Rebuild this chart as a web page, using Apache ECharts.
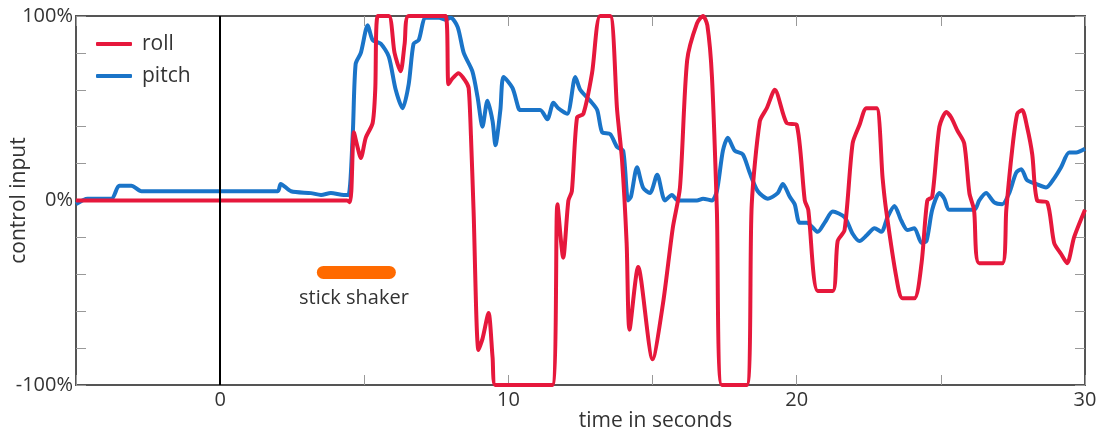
<!DOCTYPE html>
<html lang="en">
<head>
    <meta charset="UTF-8">
    <script src="https://cdn.jsdelivr.net/npm/echarts@6/dist/echarts.min.js"></script>
    <title>control input</title>
    <style>
        html, body { margin: 0; padding: 0; background: #fff; }
    </style>
</head>
<body>
    <div id="main" style="width: 1102px; height: 434px;"></div>
    <script>
        // time in seconds, control input in %
        var rollData = [
            [-5,0],[4.4,0],[4.5,-1],[4.55,5],[4.64,37],[4.75,30],[4.88,23],[5.05,34],[5.29,42],[5.38,60],
            [5.47,100],[5.85,100],[6.05,80],[6.26,70],[6.4,85],[6.54,100],[7.82,100],[7.92,63],[8.05,66],
            [8.27,69],[8.5,65],[8.62,61],[8.7,35],[8.79,-5],[8.96,-81],[9.1,-75],[9.31,-61],[9.45,-85],
            [9.55,-100],[11.52,-100],[11.7,-2],[11.9,-31],[12.08,0],[12.2,5],[12.38,45],[12.6,47],[12.9,69],
            [13.18,100],[13.53,100],[13.77,49],[13.94,22],[14.1,-23],[14.2,-70],[14.5,-36],[15.0,-86],
            [15.36,-56],[15.7,-15],[15.95,7],[16.2,76],[16.54,96],[16.75,100],[16.9,95],[17.06,67],[17.23,-5],
            [17.4,-100],[18.27,-100],[18.44,-2],[18.72,43],[18.96,50],[19.24,60],[19.65,42],[20.0,41],
            [20.28,0],[20.4,-5],[20.73,-49],[21.25,-49],[21.42,-22],[21.66,-16],[21.94,31],[22.18,41],
            [22.42,50],[22.77,50],[22.98,12],[23.1,-5],[23.46,-42],[23.67,-53],[24.08,-53],[24.33,-34],
            [24.53,0],[24.7,2],[24.95,40],[25.19,48],[25.36,45],[25.57,38],[25.81,31],[25.99,4],[26.15,-5],
            [26.33,-34],[27.13,-34],[27.27,-5],[27.47,27],[27.65,47],[27.82,49],[27.99,40],[28.17,25],
            [28.34,0],[28.69,-1],[28.93,-23],[29.17,-29],[29.38,-34],[29.62,-20],[30,-5]
        ];
        var pitchData = [
            [-5,-2],[-4.6,1],[-3.77,1],[-3.5,8],[-3.08,8],[-2.73,5],[-1,5],[0,5],[1,5],[2.0,5],[2.1,9],
            [2.46,5],[3.15,4],[3.5,3],[3.84,4],[4.29,3],[4.45,3],[4.6,36],[4.7,74],[4.88,80],[5.12,95],
            [5.29,87],[5.57,85],[5.85,78],[6.09,60],[6.33,50],[6.54,63],[6.71,85],[6.89,87],[7.13,99],
            [7.6,99],[7.8,98],[8.0,99],[8.24,94],[8.45,80],[8.75,70],[8.93,56],[9.1,40],[9.27,54],[9.45,43],
            [9.55,30],[9.72,49],[9.83,67],[10.14,61],[10.35,50],[10.42,49],[11.1,49],[11.35,44],[11.56,53],
            [11.73,50],[12.04,47],[12.32,67],[12.49,60],[12.84,54],[13.08,49],[13.25,37],[13.53,36],
            [13.77,29],[13.98,27],[14.15,0],[14.25,2],[14.46,18],[14.67,7],[14.91,4],[15.16,14],[15.43,0],
            [15.67,3],[15.88,0],[16.54,0],[16.75,1],[17.06,0],[17.23,5],[17.44,27],[17.61,34],[17.85,27],
            [18.13,25],[18.37,15],[18.65,5],[19.0,1],[19.34,4],[19.52,9],[19.76,2],[19.93,-2],[20.1,-12],
            [20.35,-12],[20.73,-17],[20.97,-12],[21.25,-6],[21.66,-9],[21.94,-18],[22.18,-22],[22.42,-19],
            [22.7,-15],[22.94,-17],[23.15,-9],[23.39,-3],[23.63,-11],[23.84,-16],[24.08,-15],[24.33,-23],
            [24.5,-22],[24.7,-5],[24.95,4],[25.12,1],[25.29,-5],[26.16,-5],[26.33,0],[26.57,4],[26.85,-1],
            [27.13,-2],[27.37,4],[27.61,15],[27.79,17],[27.99,11],[28.3,9],[28.65,7],[28.93,12],[29.17,18],
            [29.45,26],[29.69,26],[30,28]
        ];
        // stick shaker period and the level it is drawn at
        var shakerData = [[3.58,-39],[5.87,-39]];
        var shakerLabelAt = [4.64,-53];

        var xTicks = { min: -5, max: 30, interval: 5 };
        var yTicks = { min: -100, max: 100, interval: 20 };

        var font = 'Open Sans';
        var txt = '#333';

        var myChart = echarts.init(document.getElementById('main'));

        var tick = { show: true, inside: true, length: 10, lineStyle: { color: '#999', width: 1 } };
        var noLine = { show: false, onZero: false };

        var option = {
            animation: false,
            grid: {
                left: 76, right: 17, top: 16, bottom: 49,
                containLabel: false, outerBoundsMode: 'none',
                show: true, borderColor: '#555', borderWidth: 2
            },
            legend: {
                data: ['roll', 'pitch'],
                orient: 'vertical',
                left: 91, top: 28,
                icon: 'roundRect',
                itemWidth: 36, itemHeight: 4, itemGap: 10,
                textStyle: { fontFamily: font, fontSize: 21, lineHeight: 22, color: txt, padding: [0, 0, 0, 5] }
            },
            xAxis: [
                {
                    type: 'value', min: xTicks.min, max: xTicks.max, interval: xTicks.interval,
                    axisLine: noLine, axisTick: tick, splitLine: { show: false },
                    axisLabel: {
                        fontFamily: font, fontSize: 20, color: txt, margin: 5,
                        formatter: function (v) { return v % 10 === 0 ? String(v) : ''; }
                    },
                    name: 'time in seconds', nameLocation: 'middle', nameGap: 26, nameMoveOverlap: false,
                    nameTextStyle: { fontFamily: font, fontSize: 21, color: txt, padding: [0, 0, 0, 150] }
                },
                {
                    type: 'value', position: 'top', min: xTicks.min, max: xTicks.max, interval: xTicks.interval,
                    axisLine: noLine, axisTick: tick, splitLine: { show: false },
                    axisLabel: { show: false }
                }
            ],
            yAxis: [
                {
                    type: 'value', min: yTicks.min, max: yTicks.max, interval: yTicks.interval,
                    axisLine: noLine, axisTick: tick, splitLine: { show: false },
                    axisLabel: {
                        fontFamily: font, fontSize: 20, color: txt, margin: 3,
                        formatter: function (v) { return v % 100 === 0 ? v + '%' : ''; }
                    },
                    name: 'control input', nameLocation: 'middle', nameGap: 46, nameMoveOverlap: false,
                    nameTextStyle: { fontFamily: font, fontSize: 21, color: txt }
                },
                {
                    type: 'value', position: 'right', min: yTicks.min, max: yTicks.max, interval: yTicks.interval,
                    axisLine: noLine, axisTick: tick, splitLine: { show: false },
                    axisLabel: { show: false }
                }
            ],
            series: [
                {
                    name: 'stick shaker',
                    type: 'line',
                    data: shakerData,
                    symbol: 'none',
                    lineStyle: { color: '#ff6a00', width: 13, cap: 'round' },
                    markPoint: {
                        symbol: 'circle', symbolSize: 1,
                        itemStyle: { color: 'rgba(0,0,0,0)' },
                        label: {
                            show: true, position: 'inside', formatter: 'stick shaker',
                            fontFamily: font, fontSize: 20, color: txt
                        },
                        data: [{ coord: shakerLabelAt }]
                    }
                },
                {
                    name: 'pitch',
                    type: 'line',
                    data: pitchData,
                    symbol: 'none',
                    smooth: 0.25,
                    color: '#1a74c8',
                    lineStyle: { color: '#1a74c8', width: 4 }
                },
                {
                    name: 'roll',
                    type: 'line',
                    data: rollData,
                    symbol: 'none',
                    smooth: 0.25,
                    color: '#e6183c',
                    lineStyle: { color: '#e6183c', width: 4 },
                    markLine: {
                        silent: true, symbol: 'none',
                        label: { show: false },
                        lineStyle: { color: '#000', width: 2, type: 'solid' },
                        data: [{ xAxis: 0 }]
                    }
                }
            ]
        };
        myChart.setOption(option);
    </script>
</body>
</html>
